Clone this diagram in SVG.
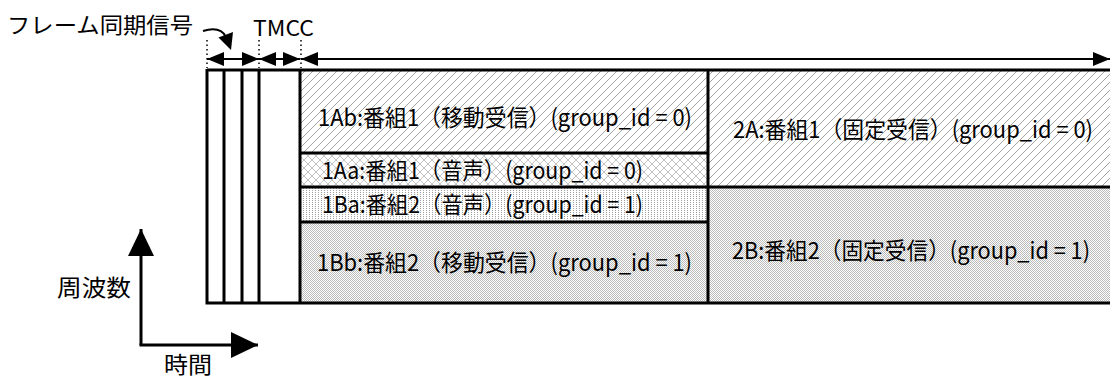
<svg xmlns="http://www.w3.org/2000/svg" width="1110" height="378" viewBox="0 0 1110 378">
<style>
text{font-family:"Noto Sans CJK JP","Noto Sans",sans-serif;fill:#000}
.lbl{font-size:23px}
.frame{stroke:#000;stroke-width:3;fill:none}
.conn{stroke:#000;stroke-width:2;fill:none}
.dot{stroke:#000;stroke-width:1.5;stroke-dasharray:1.5 3;fill:none}
.axis{stroke:#000;stroke-width:3;fill:none}
.head{fill:#000;stroke:none}
</style>
<defs>
<pattern id="hatch" patternUnits="userSpaceOnUse" width="8" height="8">
<path d="M-1,9 L9,-1" stroke="#999" stroke-width="0.9"/>
</pattern>
<pattern id="cross" patternUnits="userSpaceOnUse" width="8" height="8">
<path d="M0,8 L8,0 M0,0 L8,8" stroke="#b5b5b5" stroke-width="0.8"/>
</pattern>
<pattern id="dots" patternUnits="userSpaceOnUse" width="3" height="2">
<rect x="0" y="0" width="1" height="1" fill="#a0a0a0"/>
</pattern>
<pattern id="checker" patternUnits="userSpaceOnUse" width="2" height="2">
<rect x="0" y="0" width="1" height="1" fill="#bbb"/>
<rect x="1" y="1" width="1" height="1" fill="#bbb"/>
</pattern>
<marker id="ah" markerUnits="userSpaceOnUse" markerWidth="17" markerHeight="14" refX="17" refY="7" orient="auto-start-reverse">
<path d="M0,0 L17,7 L0,14 Z" fill="#000"/>
</marker>
<marker id="ahb" markerUnits="userSpaceOnUse" markerWidth="27" markerHeight="26" refX="27" refY="13" orient="auto">
<path d="M0,0 L27,13 L0,26 Z" fill="#000"/>
</marker>
</defs>

<rect width="1110" height="378" fill="#fff"/>

<g id="n1Ab">
<rect x="300" y="70" width="408" height="83" fill="url(#hatch)"/>
<text class="lbl" x="318" y="126" textLength="374" lengthAdjust="spacingAndGlyphs">1Ab:番組1（移動受信）(group_id = 0)</text>
</g>
<g id="n1Aa">
<rect x="300" y="153" width="408" height="34" fill="url(#cross)"/>
<text class="lbl" x="322" y="179" textLength="321" lengthAdjust="spacingAndGlyphs">1Aa:番組1（音声）(group_id = 0)</text>
</g>
<g id="n1Ba">
<rect x="300" y="187" width="408" height="35" fill="url(#dots)"/>
<text class="lbl" x="322" y="213" textLength="321" lengthAdjust="spacingAndGlyphs">1Ba:番組2（音声）(group_id = 1)</text>
</g>
<g id="n1Bb">
<rect x="300" y="222" width="408" height="81" fill="url(#checker)"/>
<text class="lbl" x="317" y="271" textLength="375" lengthAdjust="spacingAndGlyphs">1Bb:番組2（移動受信）(group_id = 1)</text>
</g>
<g id="n2A">
<rect x="708" y="70" width="402" height="117" fill="url(#hatch)"/>
<text class="lbl" x="733" y="138" textLength="360" lengthAdjust="spacingAndGlyphs">2A:番組1（固定受信）(group_id = 0)</text>
</g>
<g id="n2B">
<rect x="708" y="187" width="402" height="116" fill="url(#checker)"/>
<text class="lbl" x="732" y="259" textLength="358" lengthAdjust="spacingAndGlyphs">2B:番組2（固定受信）(group_id = 1)</text>
</g>

<g id="frame">
<path class="frame" d="M207,70 H1110 M207,303 H1110 M207,69 V304.5 M224,70 V303 M242,70 V303 M259,70 V303 M300,70 V303 M708,70 V303 M300,153 H708 M300,187 H1110 M300,222 H708"/>
</g>

<g id="labels">
<text x="7" y="33" style="font-size:22px" textLength="186" lengthAdjust="spacingAndGlyphs">フレーム同期信号</text>
<text x="253" y="36" style="font-size:21px" textLength="61" lengthAdjust="spacingAndGlyphs">TMCC</text>
<text x="57" y="296" style="font-size:23px" textLength="74" lengthAdjust="spacingAndGlyphs">周波数</text>
<text x="164" y="373" style="font-size:23px" textLength="48" lengthAdjust="spacingAndGlyphs">時間</text>
</g>

<g id="connectors">
<path class="dot" d="M207,40 V68 M259,40 V68 M301,40 V68"/>
<path class="conn" d="M207,59 H259" marker-start="url(#ah)" marker-end="url(#ah)"/>
<path class="conn" d="M259,59 H300" marker-start="url(#ah)" marker-end="url(#ah)"/>
<path class="conn" d="M301,59 H1110" marker-start="url(#ah)" marker-end="url(#ah)"/>
<path class="conn" d="M203,31 C213,28 222,29 226,37" stroke-width="2.5"/>
<path class="head" d="M231,50 L218.5,37.5 L233,32 Z"/>
<path class="axis" d="M141,345 V229" marker-end="url(#ahb)"/>
<path class="axis" d="M139.5,345 H258" marker-end="url(#ahb)"/>
</g>
</svg>
